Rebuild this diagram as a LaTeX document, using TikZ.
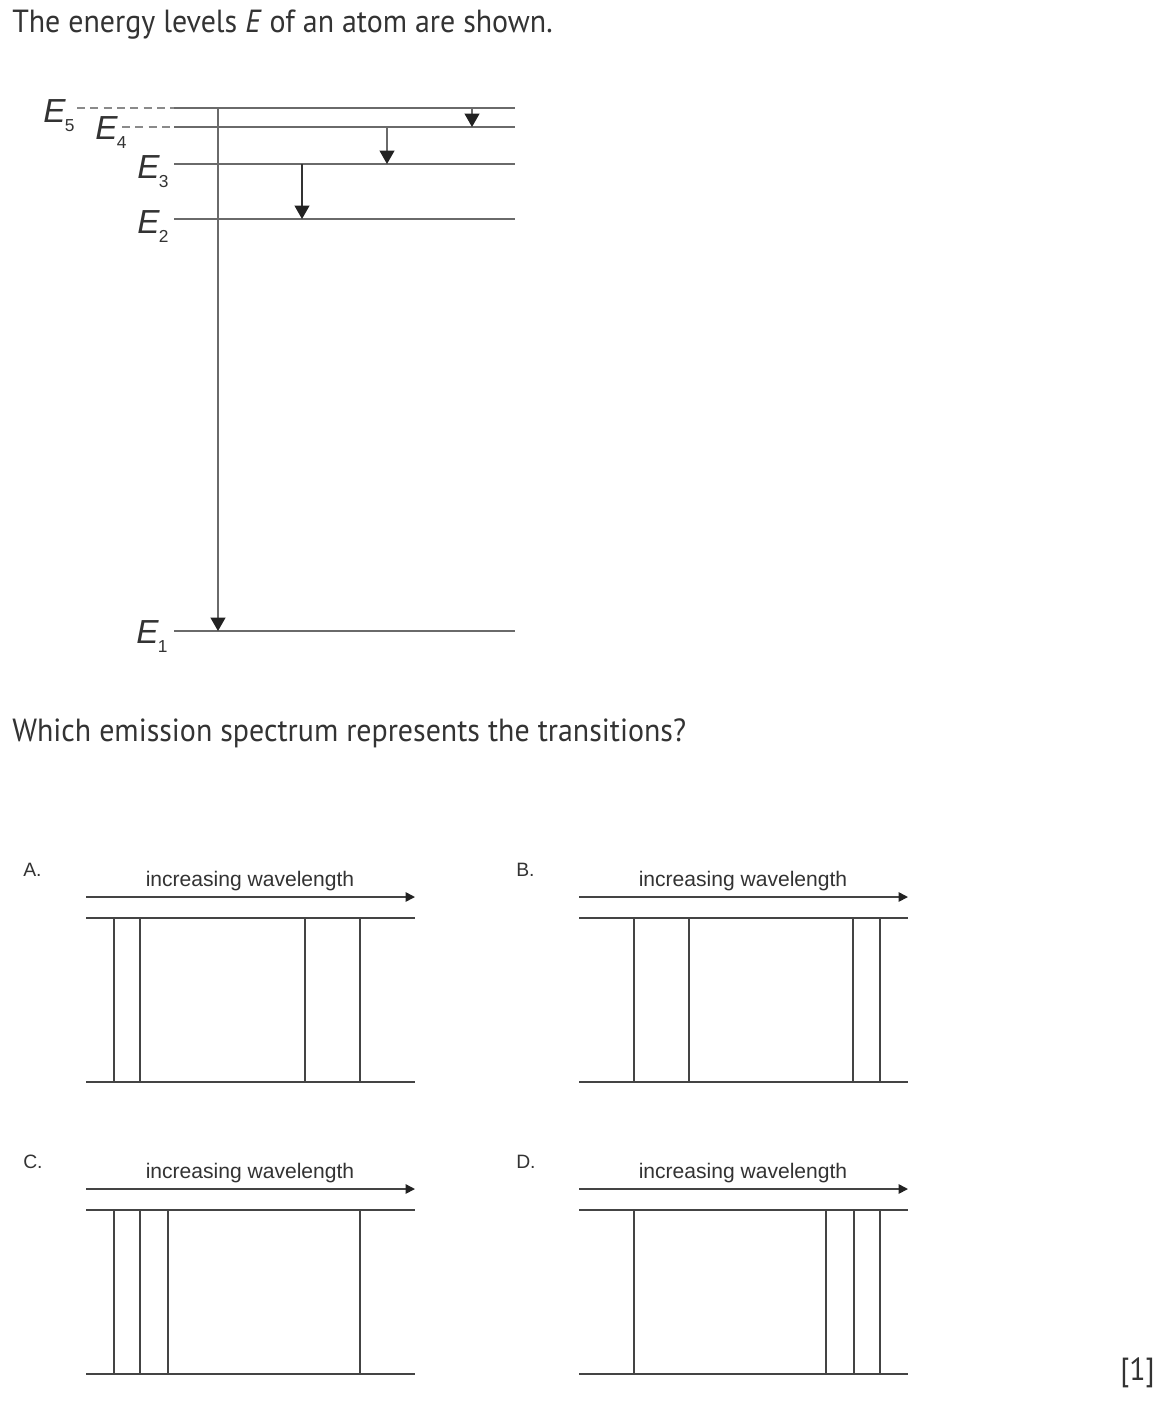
\documentclass[tikz,border=0pt]{standalone}
\usepackage{fontspec}
\setmainfont[FakeStretch=0.935]{PT Sans}
\newfontfamily\arialfont{Liberation Sans}
\usetikzlibrary{arrows.meta}

\definecolor{textgray}{HTML}{333333}
\definecolor{levelgray}{HTML}{6A6A6A}
\definecolor{dashgray}{HTML}{8A8A8A}
\definecolor{linegray}{HTML}{444444}
\definecolor{headblack}{HTML}{222222}

% energy level label: italic E with a hanging subscript
\newcommand{\Elev}[1]{{\arialfont\fontsize{25}{25}\selectfont\itshape E}\kern-0.5pt\raisebox{-7pt}{\arialfont\fontsize{13}{13}\selectfont #1}}

\tikzset{
  levelline/.style={draw=levelgray,line width=1.5pt},
  levelhint/.style={draw=dashgray,line width=1.2pt,dash pattern=on 6pt off 4pt},
  trans/.style={draw=levelgray,line width=1.4pt,-{Triangle[width=11pt,length=10pt,color=headblack]}},
  spline/.style={draw=linegray,line width=1.4pt},
  waveaxis/.style={draw=linegray,line width=1.2pt,-{Triangle[width=7pt,length=7pt,color=headblack]}},
  txt/.style={inner sep=0pt,anchor=base west,text=textgray}
}

\begin{document}
\begin{tikzpicture}[x=0.75pt,y=-0.75pt]
    \fill[white] (0,0) rectangle (1160,1414);
    \node[txt,font=\fontsize{24}{28}\selectfont] (title) at (12,32) {The energy levels \textit{E} of an atom are shown.};

    % energy levels
    \foreach \n/\y in {5/108,4/127,3/164,2/219,1/631} {
        \coordinate (L\n w) at (174,\y);
        \coordinate (L\n e) at (515,\y);
        \draw[levelline] (L\n w) -- (L\n e);
    }
    \coordinate (d5) at (77,108);
    \coordinate (d4) at (122,127);
    \draw[levelhint] (d5) -- (L5w);
    \draw[levelhint] (d4) -- (L4w);

    \node[txt] (e5) at (43,122) {\Elev{5}};
    \node[txt] (e4) at (95,139) {\Elev{4}};
    \node[txt] (e3) at (137,178) {\Elev{3}};
    \node[txt] (e2) at (137,233) {\Elev{2}};
    \node[txt] (e1) at (136,643) {\Elev{1}};

    % transitions
    \coordinate (t51a) at (218,108);  \coordinate (t51b) at (218,631);
    \coordinate (t32a) at (302,164);  \coordinate (t32b) at (302,219);
    \coordinate (t43a) at (387,127);  \coordinate (t43b) at (387,164);
    \coordinate (t54a) at (472,108);  \coordinate (t54b) at (472,127);
    \draw[trans] (t51a) -- (t51b);
    \draw[trans,draw=textgray] (t32a) -- (t32b);
    \draw[trans] (t43a) -- (t43b);
    \draw[trans] (t54a) -- (t54b);

    \node[txt,font=\fontsize{24}{28}\selectfont] (question) at (12,741) {Which emission spectrum represents the transitions?};

    % the four spectra
    \foreach \p/\dx/\dy/\lines in {A/0/0/{114,140,305,360},B/493/0/{141,196,360,387},
                                   C/0/292/{114,140,168,360},D/493/292/{141,333,361,387}} {
        \begin{scope}[shift={(\dx,\dy)}]
            \node[txt,font=\arialfont\fontsize{14.5}{16}\selectfont] (lab\p) at (23,876) {\p.};
            \node[inner sep=0pt,anchor=base,text=textgray,font=\arialfont\fontsize{15.8}{18}\selectfont] (wave\p) at (250,886) {increasing wavelength};
            \coordinate (ax\p a) at (86,897);
            \coordinate (ax\p b) at (415,897);
            \draw[waveaxis] (ax\p a) -- (ax\p b);
            \draw[spline] (86,918) -- (415,918);
            \draw[spline] (86,1082) -- (415,1082);
            \foreach \x in \lines {
                \draw[spline] (\x,918) -- (\x,1082);
            }
        \end{scope}
    }

    \node[txt,font=\fontsize{24}{28}\selectfont] (mark) at (1120,1380) {[1]};
\end{tikzpicture}
\end{document}
